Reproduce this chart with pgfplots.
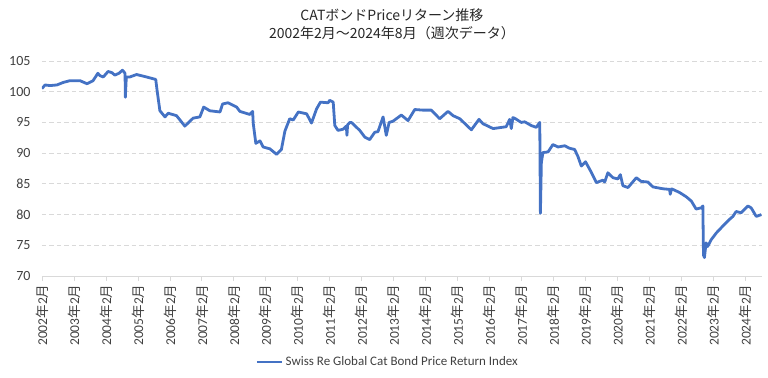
\documentclass[border=0pt]{standalone}
\usepackage{fontspec}
\setmainfont{Carlito}
\newfontfamily\cjk{Noto Sans CJK JP}
\usepackage{pgfplots}
\pgfplotsset{compat=1.18}
\definecolor{lineblue}{HTML}{4472C4}
\definecolor{gridgray}{HTML}{D9D9D9}
\definecolor{txt}{HTML}{404040}
\newcommand{\nen}{{\cjk 年}}
\newcommand{\tsuki}{{\cjk 月}}
\begin{document}
\begin{tikzpicture}
\path[use as bounding box] (0,0) rectangle (768bp,378bp);
\begin{axis}[
  at={(42bp,102bp)}, anchor=south west,
  scale only axis, width=720bp, height=215bp,
  xmin=2002.083, xmax=2024.6,
  ymin=70, ymax=105,
  ytick={70,75,80,85,90,95,100,105},
  xtick={2002.083,2003.083,2004.083,2005.083,2006.083,2007.083,2008.083,2009.083,2010.083,2011.083,2012.083,2013.083,2014.083,2015.083,2016.083,2017.083,2018.083,2019.083,2020.083,2021.083,2022.083,2023.083,2024.083},
  xticklabels={2002\nen2\tsuki,2003\nen2\tsuki,2004\nen2\tsuki,2005\nen2\tsuki,2006\nen2\tsuki,2007\nen2\tsuki,2008\nen2\tsuki,2009\nen2\tsuki,2010\nen2\tsuki,2011\nen2\tsuki,2012\nen2\tsuki,2013\nen2\tsuki,2014\nen2\tsuki,2015\nen2\tsuki,2016\nen2\tsuki,2017\nen2\tsuki,2018\nen2\tsuki,2019\nen2\tsuki,2020\nen2\tsuki,2021\nen2\tsuki,2022\nen2\tsuki,2023\nen2\tsuki,2024\nen2\tsuki},
  axis x line*=bottom, axis y line*=left,
  x axis line style={gridgray, line width=0.8pt, -},
  y axis line style={draw=none},
  ytick style={draw=none},
  xtick style={gridgray, line width=0.8pt},
  tick align=outside, major tick length=5bp,
  ymajorgrids,
  grid style={gridgray, line width=0.9pt, dash pattern=on 4.5pt off 3pt},
  tick label style={text=txt},
  xticklabel style={rotate=90, anchor=east, font=\fontsize{13.5bp}{15bp}\selectfont},
  yticklabel style={font=\fontsize{14bp}{16bp}\selectfont, xshift=-3bp},
  /pgf/number format/assume math mode=true,
  title={CATボンドPriceリターン推移\\2002年2月～2024年8月（週次データ）},
  title style={font=\cjk\fontsize{14bp}{18bp}\selectfont, align=center, at={(0.486,1)}, anchor=south, yshift=12bp, text=black!85},
  legend style={at={(0.48,-0.4)}, anchor=center, draw=none, fill=none, font=\fontsize{13bp}{15bp}\selectfont, text=txt},
  legend image code/.code={\draw[#1] (0cm,0cm) -- (0.9cm,0cm);},
]
\addplot[lineblue, line width=2.8bp, line join=round] table {
2002.08 100.5
2002.18 101.1
2002.33 101.0
2002.55 101.1
2002.74 101.5
2002.96 101.8
2003.27 101.8
2003.49 101.3
2003.68 101.8
2003.83 103.0
2003.90 102.6
2004.00 102.4
2004.15 103.3
2004.27 103.1
2004.36 102.7
2004.49 103.0
2004.60 103.5
2004.68 103.0
2004.69 99.1
2004.72 102.4
2004.83 102.4
2005.04 102.8
2005.35 102.4
2005.64 102.0
2005.69 99.9
2005.77 96.9
2005.93 95.9
2006.03 96.5
2006.29 96.1
2006.55 94.4
2006.81 95.7
2007.02 95.9
2007.14 97.5
2007.33 96.9
2007.65 96.7
2007.73 98.0
2007.90 98.2
2008.17 97.5
2008.27 96.8
2008.58 96.3
2008.67 96.8
2008.69 94.8
2008.77 91.6
2008.90 92.0
2009.00 91.0
2009.21 90.7
2009.42 89.8
2009.57 90.6
2009.68 93.6
2009.83 95.6
2009.94 95.4
2010.10 96.7
2010.36 96.4
2010.51 94.9
2010.67 97.2
2010.79 98.3
2011.03 98.2
2011.08 98.6
2011.19 98.3
2011.24 94.5
2011.34 93.7
2011.50 93.9
2011.60 94.4
2011.62 92.9
2011.64 94.6
2011.71 95.0
2011.76 95.0
2012.02 93.7
2012.18 92.6
2012.33 92.2
2012.49 93.4
2012.59 93.5
2012.75 95.9
2012.85 92.9
2012.94 95.0
2013.06 95.2
2013.32 96.2
2013.53 95.3
2013.74 97.1
2014.00 97.0
2014.26 97.0
2014.52 95.6
2014.78 96.8
2014.94 96.1
2015.15 95.6
2015.51 93.8
2015.75 95.5
2015.87 94.8
2016.19 94.0
2016.60 94.3
2016.71 95.5
2016.76 94.0
2016.81 95.8
2016.89 95.6
2017.07 95.0
2017.18 95.1
2017.38 94.5
2017.54 94.2
2017.65 95.0
2017.67 80.2
2017.70 88.5
2017.75 90.1
2017.91 90.2
2018.06 91.4
2018.22 91.0
2018.43 91.2
2018.58 90.8
2018.74 90.6
2018.84 89.5
2018.95 87.9
2019.08 88.6
2019.26 86.9
2019.42 85.2
2019.62 85.6
2019.68 85.3
2019.78 86.8
2019.94 86.0
2020.09 85.8
2020.17 86.5
2020.25 84.7
2020.41 84.4
2020.67 86.0
2020.82 85.4
2021.03 85.3
2021.19 84.5
2021.50 84.2
2021.71 84.1
2021.73 83.3
2021.77 84.2
2022.02 83.6
2022.23 82.9
2022.39 82.2
2022.54 80.9
2022.70 81.1
2022.75 81.4
2022.77 73.4
2022.80 73.0
2022.85 75.4
2022.90 74.8
2023.01 75.9
2023.17 77.0
2023.37 78.1
2023.58 79.2
2023.69 79.7
2023.79 80.5
2023.95 80.3
2024.16 81.4
2024.26 81.1
2024.42 79.7
2024.58 80.0
};
\addlegendentry{Swiss Re Global Cat Bond Price Return Index}
\end{axis}
\end{tikzpicture}
\end{document}
